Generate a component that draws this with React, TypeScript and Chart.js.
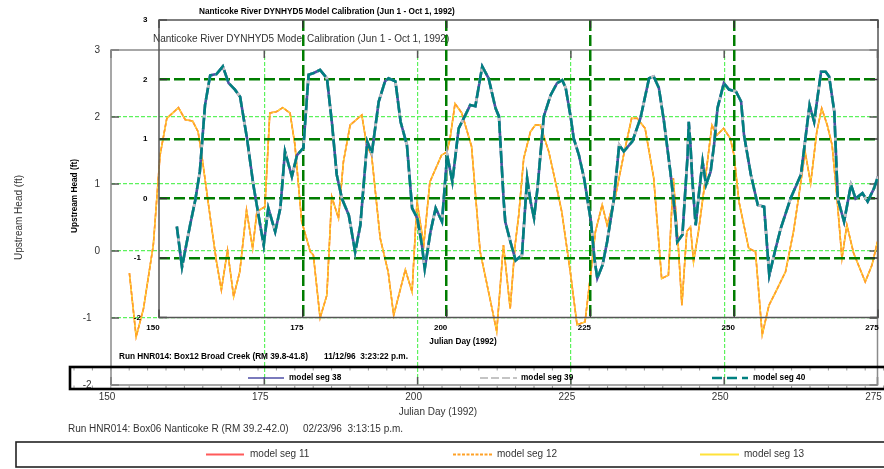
import React, { useEffect, useRef } from 'react';
import { Chart, registerables } from 'chart.js';

Chart.register(...registerables);

const FAMILY = '"Liberation Sans", Arial, Helvetica, sans-serif';

// Axis ticks shared by both panels
const dayTicks = [150, 175, 200, 225, 250, 275];
const headTicks = [3, 2, 1, 0, -1, -2];

// Box06 Nanticoke R (RM 39.2-42.0): upstream head, model segs 11-13
const nanticokeDays = [
  153.0, 154.1, 155.3, 156.9, 158.0, 159.1, 161.0, 162.1, 163.3, 164.2, 164.8, 166.2, 167.2, 168.0,
  169.0, 170.0, 171.0, 172.1, 173.1, 173.8, 175.1, 175.9, 177.0, 178.0, 179.2, 180.0, 181.1, 182.5,
  183.0, 184.1, 185.2, 186.0, 187.1, 187.9, 189.0, 190.9, 191.7, 192.5, 193.9, 195.2, 196.1, 198.0,
  199.1, 199.9, 201.0, 202.0, 203.9, 204.8, 205.3, 206.1, 207.2, 208.8, 210.2, 211.8, 212.9, 214.0,
  215.1, 215.9, 216.5, 217.3, 218.4, 219.2, 220.0, 221.4, 222.7, 223.5, 224.9, 226.0, 227.3, 228.2,
  229.0, 230.1, 230.9, 232.2, 233.6, 234.9, 235.8, 237.1, 238.5, 239.8, 240.9, 241.7, 242.5, 243.1,
  243.9, 244.5, 245.0, 245.8, 246.6, 248.0, 248.8, 249.9, 251.0, 251.6, 252.4, 254.0, 255.1, 256.2,
  257.3, 258.4, 260.0, 261.3, 262.2, 263.2, 264.1, 265.1, 265.9, 266.8, 267.6, 268.4, 269.2, 270.0,
  271.1, 273.0, 274.1, 275.0,
];
const nanticokeHead = [
  -0.33, -1.28, -0.86, 0.09, 1.43, 1.98, 2.14, 1.96, 1.94, 1.78, 1.43, 0.49, -0.16, -0.58,
  0.01, -0.68, -0.31, 0.61, 0.04, 0.59, 0.66, 2.06, 2.08, 2.14, 2.06, 1.58, 0.44, -0.01,
  -0.06, -1.0, -0.66, 0.81, 0.49, 1.33, 1.88, 2.03, 1.58, 1.43, 0.19, -0.31, -0.96, -0.28,
  -0.61, 0.74, 0.09, 1.03, 1.43, 1.48, 1.68, 2.2, 2.06, 1.56, -0.01, -0.71, -1.2, 0.09,
  -0.86, 0.09, 0.54, 1.38, 1.78, 1.88, 1.88, 1.48, 0.94, 0.59, -0.31, -1.1, -1.06, -0.36,
  0.29, 0.69, 0.39, 0.79, 1.43, 1.98, 1.98, 1.83, 1.09, -0.41, -0.36, 1.09, 0.09, -0.81,
  0.29, 0.36, -0.16, 0.29, 0.84, 1.88, 1.73, 1.83, 1.68, 1.43, 0.74, 0.04, -0.01, -1.25,
  -0.81, -0.61, -0.31, 0.29, 0.84, 1.48, 1.01, 1.78, 2.13, 1.88, 1.58, 0.79, -0.11, 0.39,
  -0.03, -0.46, -0.21, 0.14,
];

// Box12 Broad Creek (RM 39.8-41.8): upstream head, model segs 38-40
const broadCreekDays = [
  153.1, 154.0, 155.4, 156.3, 157.1, 158.0, 158.9, 160.0, 161.1, 162.1, 163.2, 164.1, 165.3, 166.4,
  167.6, 168.2, 169.0, 170.2, 171.1, 171.9, 173.1, 174.0, 175.1, 176.0, 176.9, 178.0, 179.2, 180.1,
  180.9, 181.8, 183.0, 184.1, 185.0, 186.2, 187.0, 188.2, 189.3, 189.9, 191.1, 192.0, 193.1, 194.0,
  194.9, 195.7, 196.2, 197.2, 198.1, 199.2, 200.1, 201.0, 202.1, 203.3, 204.1, 205.0, 206.2, 207.3,
  208.5, 209.1, 209.9, 210.2, 211.1, 212.0, 213.1, 214.0, 214.6, 215.2, 215.8, 216.9, 218.1, 219.2,
  220.1, 220.7, 221.6, 222.1, 223.0, 223.9, 225.1, 225.7, 226.2, 227.1, 227.9, 229.1, 230.0, 230.8,
  232.3, 233.7, 235.2, 236.0, 236.9, 237.8, 238.9, 239.8, 240.1, 241.0, 241.9, 242.1, 242.4, 242.7,
  243.3, 243.9, 244.5, 245.1, 245.9, 246.5, 247.1, 248.2, 249.1, 250.3, 251.2, 251.7, 252.9, 254.1,
  255.2, 256.1, 257.2, 258.1, 259.8, 261.6, 263.1, 263.9, 265.1, 265.9, 266.5, 267.4, 268.0, 269.1,
  270.3, 271.1, 272.3, 273.2, 274.3, 275.0,
];
const broadCreekHead = [
  -0.47, -1.15, -0.45, -0.03, 0.45, 1.57, 2.07, 2.09, 2.22, 1.94, 1.83, 1.71, 1.01, 0.23,
  -0.45, -0.78, -0.16, -0.56, -0.16, 0.79, 0.37, 0.73, 0.85, 2.08, 2.11, 2.16, 2.02, 1.24,
  0.4, 0.0, -0.28, -0.9, -0.45, 0.96, 0.76, 1.63, 1.97, 2.02, 1.97, 1.29, 0.9, -0.16,
  -0.33, -0.78, -1.18, -0.56, -0.16, -0.39, 0.73, 0.28, 1.18, 1.41, 1.57, 1.55, 2.22, 2.02,
  1.52, 1.38, 0.0, -0.39, -0.73, -1.04, -0.95, 0.34, -0.05, -0.33, 0.17, 1.38, 1.74, 1.94,
  1.99, 1.86, 1.35, 1.01, 0.73, 0.34, -0.39, -1.01, -1.34, -1.12, -0.73, 0.0, 0.9, 0.79,
  0.96, 1.35, 2.02, 2.05, 1.86, 1.29, 0.45, -0.33, -0.73, -0.61, 0.73, 1.29, 0.9, 0.34,
  -0.45, 0.11, 0.62, 0.23, 0.45, 0.9, 1.52, 1.94, 1.83, 1.8, 1.63, 1.07, 0.4, -0.11,
  -0.14, -1.29, -0.84, -0.5, 0.0, 0.4, 1.57, 1.29, 2.13, 2.13, 2.05, 1.46, 0.0, -0.39,
  0.23, 0.0, 0.09, -0.05, 0.17, 0.37,
];

const nanticokeSegs = ['model seg 11', 'model seg 12', 'model seg 13'];
const broadCreekSegs = ['model seg 38', 'model seg 39', 'model seg 40'];

const points = (xs: number[], ys: number[]) => xs.map((x, i) => ({ x, y: ys[i] }));
const negPad = (v: number) => (v < 0 ? `${v}\u2007 ` : `${v}`);
const clear = 'rgba(0,0,0,0)';

// Plot frame with inward tick marks on all four sides
const framePlugin = {
  id: 'frame',
  beforeDatasetsDraw(chart: any, _args: any, opts: any) {
    const { ctx, chartArea: a, scales } = chart;
    const L = opts.tickLength;
    ctx.save();
    ctx.strokeStyle = opts.tickColor;
    ctx.lineWidth = opts.tickWidth;
    ctx.beginPath();
    scales.x.ticks.forEach((t: any) => {
      const p = scales.x.getPixelForValue(t.value);
      ctx.moveTo(p, a.top);
      ctx.lineTo(p, a.top + L);
      ctx.moveTo(p, a.bottom);
      ctx.lineTo(p, a.bottom - L);
    });
    scales.y.ticks.forEach((t: any) => {
      const p = scales.y.getPixelForValue(t.value);
      ctx.moveTo(a.left, p);
      ctx.lineTo(a.left + L, p);
      ctx.moveTo(a.right, p);
      ctx.lineTo(a.right - L, p);
    });
    ctx.stroke();
    ctx.strokeStyle = opts.color;
    ctx.lineWidth = opts.width;
    ctx.strokeRect(a.left, a.top, a.right - a.left, a.bottom - a.top);
    ctx.restore();
  },
};

// Free-standing text: titles, axis captions, run footers
const captionsPlugin = {
  id: 'captions',
  afterDraw(chart: any, _args: any, opts: any) {
    const { ctx } = chart;
    for (const c of opts.items || []) {
      ctx.save();
      ctx.font = c.font;
      ctx.fillStyle = c.color;
      ctx.textAlign = c.align || 'left';
      ctx.textBaseline = 'middle';
      ctx.translate(c.x, c.y);
      if (c.rotate) ctx.rotate(c.rotate);
      ctx.fillText(c.text, 0, 0);
      ctx.restore();
    }
  },
};

// Boxed legend strip with one sample per dataset
const legendBoxPlugin = {
  id: 'legendBox',
  afterDraw(chart: any, _args: any, opts: any) {
    const { ctx } = chart;
    const b = opts.box;
    ctx.save();
    if (b.ruler) {
      ctx.strokeStyle = b.ruler.color;
      ctx.lineWidth = 1;
      ctx.beginPath();
      for (let x = b.ruler.start; x < b.right; x += b.ruler.step) {
        ctx.moveTo(x, b.top + 1);
        ctx.lineTo(x, b.top + 3.5);
        ctx.moveTo(x, b.bottom - 1);
        ctx.lineTo(x, b.bottom - 3.5);
      }
      ctx.stroke();
    }
    ctx.strokeStyle = b.color;
    ctx.lineWidth = b.width;
    ctx.strokeRect(b.left, b.top, b.right - b.left, b.bottom - b.top);
    opts.items.forEach((it: any, i: number) => {
      const ds = chart.data.datasets[i];
      ctx.beginPath();
      ctx.strokeStyle = ds.borderColor;
      ctx.lineWidth = it.lineWidth ?? ds.borderWidth;
      ctx.setLineDash(it.dash ?? ds.borderDash ?? []);
      ctx.moveTo(it.x1, opts.y);
      ctx.lineTo(it.x2, opts.y);
      ctx.stroke();
      ctx.setLineDash([]);
      ctx.font = opts.font;
      ctx.fillStyle = opts.color;
      ctx.textAlign = 'left';
      ctx.textBaseline = 'middle';
      ctx.fillText(ds.label, it.textX, opts.y);
    });
    ctx.restore();
  },
};

const plugins = [framePlugin, captionsPlugin, legendBoxPlugin];

const setTicks = (values: number[]) => (scale: any) => {
  scale.ticks = values.map((value) => ({ value }));
};

// Fix an axis band size and drop the edge padding Chart.js reserves for end labels
const fixSize = (prop: 'width' | 'height', size: number) => (s: any) => {
  s[prop] = size;
  s.paddingLeft = 0;
  s.paddingRight = 0;
  s.paddingTop = 0;
  s.paddingBottom = 0;
};

function nanticokeConfig(): any {
  const font = { family: FAMILY, size: 10 };
  const text = `10px ${FAMILY}`;
  const gridColor = (lo: number, hi: number) => (c: any) =>
    c.tick && (c.tick.value === lo || c.tick.value === hi) ? clear : '#5cf25c';
  const styles = [
    { borderColor: '#ff5a5a', borderWidth: 1.6, order: 2 },
    { borderColor: '#ffa126', borderWidth: 1.5, borderDash: [4, 2], order: 0 },
    { borderColor: '#ffe23a', borderWidth: 1.5, order: 1 },
  ];
  return {
    type: 'line',
    data: {
      datasets: nanticokeSegs.map((label, i) => ({
        label,
        data: points(nanticokeDays, nanticokeHead),
        pointRadius: 0,
        tension: 0,
        fill: false,
        ...styles[i],
      })),
    },
    options: {
      responsive: false,
      animation: false,
      events: [],
      layout: { padding: { left: 0, top: 50, right: 6.5, bottom: 0 } },
      plugins: {
        legend: { display: false },
        title: { display: false },
        tooltip: { enabled: false },
        frame: { color: '#8a8a8a', width: 1.5, tickColor: '#555', tickWidth: 1.5, tickLength: 8 },
        captions: {
          items: [
            { text: 'Nanticoke River DYNHYD5 Model Calibration (Jun 1 - Oct 1, 1992)', x: 153, y: 39.5, font: text, color: '#333' },
            { text: 'Julian Day (1992)', x: 438, y: 412.5, font: text, color: '#333', align: 'center' },
            { text: 'Run HNR014: Box06 Nanticoke R (RM 39.2-42.0)', x: 68, y: 429.5, font: text, color: '#333' },
            { text: '02/23/96  3:13:15 p.m.', x: 303, y: 429.5, font: text, color: '#333' },
          ],
        },
        legendBox: {
          box: { left: 16, top: 442, right: 895, bottom: 467, color: '#222', width: 1.6 },
          y: 454.5,
          font: text,
          color: '#333',
          items: [
            { x1: 206, x2: 244, textX: 250, lineWidth: 2 },
            { x1: 453, x2: 492, textX: 497, lineWidth: 2, dash: [3, 1.5] },
            { x1: 700, x2: 739, textX: 744, lineWidth: 2 },
          ],
        },
      },
      scales: {
        x: {
          type: 'linear',
          min: 150,
          max: 275,
          afterBuildTicks: setTicks(dayTicks),
          afterFit: fixSize('height', 84),
          grid: { color: gridColor(150, 275), lineWidth: 1.2, drawTicks: false },
          border: { display: false, dash: [4, 2] },
          ticks: { padding: 6, labelOffset: -4, font, color: '#333', maxRotation: 0 },
        },
        y: {
          type: 'linear',
          min: -2,
          max: 3,
          afterBuildTicks: setTicks(headTicks),
          afterFit: fixSize('width', 111),
          grid: { color: gridColor(-2, 3), lineWidth: 1.2, drawTicks: false },
          border: { display: false, dash: [4, 2] },
          ticks: { padding: 11, font, color: '#333', callback: (v: number) => negPad(v) },
          title: { display: true, text: 'Upstream Head (ft)', font, color: '#333', padding: { top: 13, bottom: 0 } },
        },
      },
    },
    plugins,
  };
}

function broadCreekConfig(): any {
  const font = { family: FAMILY, size: 8, weight: 'bold' };
  const text = `bold 8.25px ${FAMILY}`;
  const gridColor = (lo: number, hi: number) => (c: any) =>
    c.tick && (c.tick.value === lo || c.tick.value === hi) ? clear : '#007d00';
  const styles = [
    { borderColor: '#4e4ea6', borderWidth: 2.6, order: 2 },
    { borderColor: '#c4c4c4', borderWidth: 2.6, borderDash: [6, 4], order: 1 },
    { borderColor: '#008080', borderWidth: 2.6, borderDash: [12, 3], order: 0 },
  ];
  return {
    type: 'line',
    data: {
      datasets: broadCreekSegs.map((label, i) => ({
        label,
        data: points(broadCreekDays, broadCreekHead),
        pointRadius: 0,
        tension: 0,
        fill: false,
        ...styles[i],
      })),
    },
    options: {
      responsive: false,
      animation: false,
      events: [],
      layout: { padding: { left: 0, top: 20, right: 6, bottom: 0 } },
      plugins: {
        legend: { display: false },
        title: { display: false },
        tooltip: { enabled: false },
        frame: { color: '#555', width: 1.5, tickColor: '#333', tickWidth: 1.5, tickLength: 8 },
        captions: {
          items: [
            { text: 'Nanticoke River DYNHYD5 Model Calibration (Jun 1 - Oct 1, 1992)', x: 199, y: 12, font: text, color: '#000' },
            { text: 'Upstream Head (ft)', x: 75, y: 196, font: text, color: '#000', align: 'center', rotate: -Math.PI / 2 },
            { text: 'Julian Day (1992)', x: 463, y: 341.5, font: text, color: '#000', align: 'center' },
            { text: 'Run HNR014: Box12 Broad Creek (RM 39.8-41.8)', x: 119, y: 356.5, font: text, color: '#000' },
            { text: '11/12/96  3:23:22 p.m.', x: 324, y: 356.5, font: text, color: '#000' },
          ],
        },
        legendBox: {
          box: {
            left: 70, top: 367, right: 895, bottom: 389, color: '#000', width: 2.6,
            ruler: { start: 74, step: 18.4, color: '#9a9a9a' },
          },
          y: 378,
          font: text,
          color: '#000',
          items: [
            { x1: 248, x2: 284, textX: 289, lineWidth: 1.5 },
            { x1: 480, x2: 517, textX: 521, lineWidth: 2, dash: [8, 3] },
            { x1: 712, x2: 748, textX: 753, lineWidth: 2.6, dash: [10, 5] },
          ],
        },
      },
      scales: {
        x: {
          type: 'linear',
          min: 150,
          max: 275,
          afterBuildTicks: setTicks(dayTicks),
          afterFit: fixSize('height', 151.5),
          grid: { color: gridColor(150, 275), lineWidth: 2.5, drawTicks: false },
          border: { display: false, dash: [11, 4] },
          ticks: { padding: 5, labelOffset: -6, font, color: '#000', maxRotation: 0 },
        },
        y: {
          type: 'linear',
          min: -2,
          max: 3,
          afterBuildTicks: setTicks(headTicks),
          afterFit: fixSize('width', 159),
          grid: { color: gridColor(-2, 3), lineWidth: 2.5, drawTicks: false },
          border: { display: false, dash: [11, 4] },
          ticks: { padding: 11.5, font, color: '#000', callback: (v: number) => negPad(v) },
        },
      },
    },
    plugins,
  };
}

export default function App() {
  const lowerRef = useRef<HTMLCanvasElement>(null);
  const upperRef = useRef<HTMLCanvasElement>(null);

  useEffect(() => {
    const lower = new Chart(lowerRef.current as HTMLCanvasElement, nanticokeConfig());
    const upper = new Chart(upperRef.current as HTMLCanvasElement, broadCreekConfig());
    return () => {
      upper.destroy();
      lower.destroy();
    };
  }, []);

  const layer: React.CSSProperties = { position: 'absolute', left: 0, top: 0 };
  return (
    <div style={{ position: 'absolute', left: 0, top: 0, width: 884, height: 469, background: '#fff', overflow: 'hidden' }}>
      <canvas ref={lowerRef} width={884} height={469} style={layer} />
      <canvas ref={upperRef} width={884} height={469} style={layer} />
    </div>
  );
}
